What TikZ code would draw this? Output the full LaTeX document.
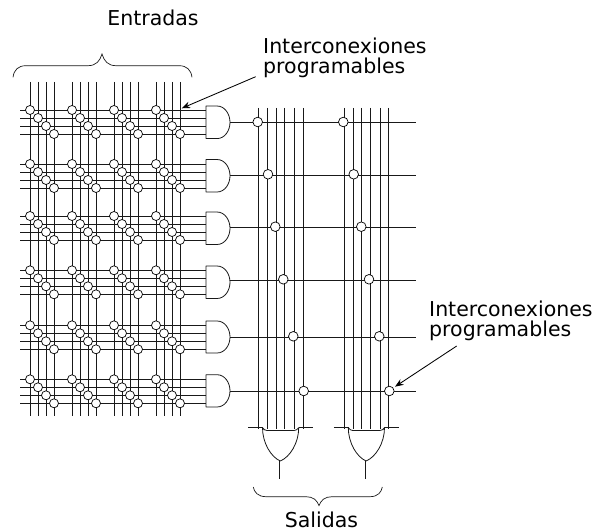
\documentclass[tikz,border=0pt]{standalone}
\usepackage{fontspec}
\setmainfont{DejaVu Sans}
\usetikzlibrary{arrows.meta}
\tikzset{
  wire/.style={line width=0.85pt,black!90},
  gatebody/.style={line width=0.8pt,black!90,fill=white,line join=round},
  bracket/.style={line width=0.7pt,black!90},
  link/.style={circle,draw=black,line width=0.7pt,fill=white,minimum size=9pt,inner sep=0pt},
  pointer/.style={line width=0.85pt,black,-{Stealth[length=8.5pt,width=6.5pt]}},
  label/.style={font=\fontsize{20.5}{20}\selectfont,inner sep=0pt,align=left,text=black}
}
\begin{document}
\begin{tikzpicture}[x=1pt,y=-1pt]
\useasboundingbox (0,0) rectangle (597,532);
\fill[white] (0,0) rectangle (597,532);

% input columns
\foreach \g/\gx in {0/30,1/72,2/114,3/156}
  \foreach \k in {0,1,2,3} {
    \pgfmathsetmacro{\vx}{\gx+8*\k}
    \coordinate (vt-\g-\k) at (\vx,82);
    \coordinate (vb-\g-\k) at (\vx,416);
    \draw[wire] (vt-\g-\k) -- (vb-\g-\k);
  }

% AND rows: row / top wire y / gate top / gate bottom / output y
\foreach \r/\ry/\gt/\gb/\oy in {1/110/106/138.6/122.7,2/164/159.5/192/175,3/216/212/244.5/227.3,4/270.3/266/298.5/280,5/325.3/321/353/337.3,6/379.3/374.7/407/391.7} {
  \coordinate (gout-\r) at (230,\oy);
  \coordinate (oend-\r) at (416,\oy);
  \draw[wire] (gout-\r) -- (oend-\r);
  \foreach \k in {0,1,2,3} {
    \pgfmathsetmacro{\hy}{\ry+8*\k}
    \coordinate (hl-\r-\k) at (20,\hy);
    \coordinate (hr-\r-\k) at (206,\hy);
    \draw[wire] (hl-\r-\k) -- (hr-\r-\k);
  }
  \pgfmathsetmacro{\gm}{(\gt+\gb)/2}
  \draw[gatebody] (206,\gt) -- (217,\gt) .. controls (225,\gt) and (230,\gm-8) .. (230,\gm)
     .. controls (230,\gm+8) and (225,\gb) .. (217,\gb) -- (206,\gb) -- cycle;
  \foreach \g/\gx in {0/30,1/72,2/114,3/156}
    \foreach \k in {0,1,2,3} {
      \pgfmathsetmacro{\cx}{\gx+8*\k}
      \pgfmathsetmacro{\cy}{\ry+8*\k}
      \node[link] (in-\r-\g-\k) at (\cx,\cy) {};
    }
}

% output columns and OR gates
\foreach \s/\dx in {0/0,1/85.8} {
  \foreach \k/\vx in {0/258.7,1/267.3,2/276,3/284.3,4/294.5,5/303} {
    \coordinate (ot-\s-\k) at (\vx+\dx,108);
    \coordinate (ob-\s-\k) at (\vx+\dx,429);
    \draw[wire] (ot-\s-\k) -- (ob-\s-\k);
  }
  \begin{scope}[xshift=\dx pt]
    \draw[wire] (248,427.7) -- (263,427.7);
    \draw[wire] (298.5,427.7) -- (313,427.7);
    \draw[gatebody] (262.5,427.7) .. controls (264,429.5) and (265,430.5) .. (267,430.5)
       -- (294,430.5) .. controls (296,430.5) and (297.5,429.5) .. (298.7,427.7)
       .. controls (298.7,443) and (290,457) .. (280.3,461)
       .. controls (271,457) and (262.5,443) .. (262.5,427.7) -- cycle;
    \coordinate (ortip-\s) at (279.5,461);
    \coordinate (orend-\s) at (279.5,479);
    \draw[wire] (ortip-\s) -- (orend-\s);
  \end{scope}
}

% programmable links on the outputs
\foreach \n/\x/\y in {a1/257.7/122,a2/268/174.3,a3/275.3/226.7,a4/283.3/279.3,a5/293.3/336.3,a6/303.7/391,
                      b1/343.3/122,b2/353.7/174.3,b3/361.3/226.7,b4/369/279.3,b5/379.3/336.3,b6/389.3/391}
  \node[link,minimum size=9.6pt] (\n) at (\x,\y) {};

% braces
\draw[bracket] (13,77.3) .. controls (14,70) and (18,65.7) .. (26,65.7) -- (88,65.7)
   .. controls (96,65.7) and (100,61) .. (102,54)
   .. controls (104,61) and (108,65.7) .. (116,65.7) -- (179,65.7)
   .. controls (187,65.7) and (191,70) .. (192,77.3);
\draw[bracket] (253.3,487) .. controls (254,492) and (258,496.7) .. (266,496.7) -- (306,496.7)
   .. controls (313,496.7) and (317,500) .. (319,505.7)
   .. controls (321,500) and (325,496.7) .. (332,496.7) -- (370,496.7)
   .. controls (378,496.7) and (381.5,492) .. (382.3,487);

% labels
\node[label,anchor=base] (entradas) at (153,26) {Entradas};
\node[label,anchor=base] (salidas) at (321.5,527) {Salidas};
\node[label,anchor=base west] (lab1) at (263,53.3) {Interconexiones};
\node[label,anchor=base west] (lab1b) at (263,73.3) {programables};
\node[label,anchor=base west] (lab2) at (429,316) {Interconexiones};
\node[label,anchor=base west] (lab2b) at (429,336) {programables};

% pointers
\coordinate (p1s) at (255.7,76.7);
\coordinate (p1e) at (181.7,108.3);
\coordinate (p2s) at (456.7,346);
\coordinate (p2e) at (395,386.7);
\draw[pointer] (p1s) -- (p1e);
\draw[pointer] (p2s) -- (p2e);
\end{tikzpicture}
\end{document}
